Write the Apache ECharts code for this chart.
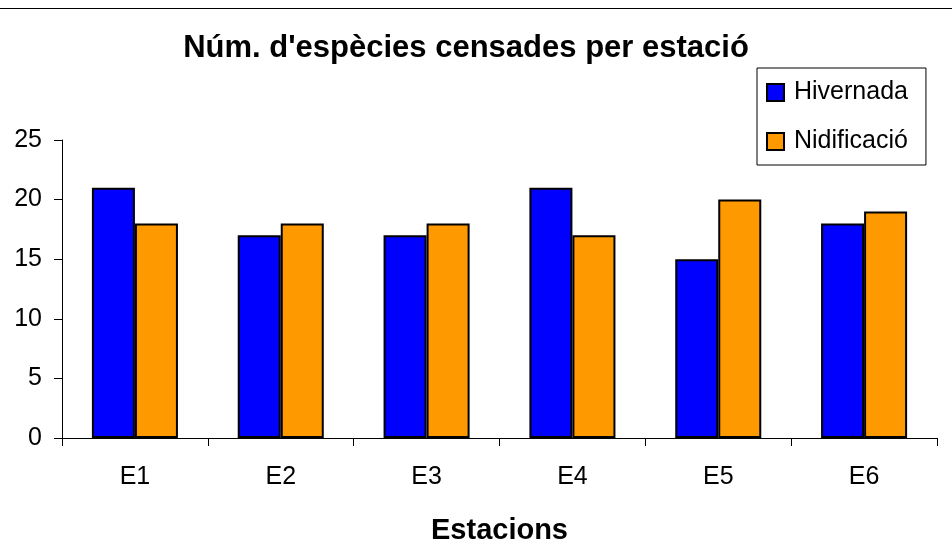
<!DOCTYPE html>
<html><head><meta charset="utf-8">
<script src="https://cdn.jsdelivr.net/npm/echarts@6/dist/echarts.min.js"></script>
<style>html,body{margin:0;padding:0;background:#fff}#c{width:952px;height:558px}</style>
</head><body><div id="c"></div>
<script>
const categories = ['E1','E2','E3','E4','E5','E6'];
const hivernada = [21,17,17,21,15,18];
const nidificacio = [18,18,18,17,20,19];
const seriesNames = ['Hivernada','Nidificació'];
const yTicks = [0,5,10,15,20,25];

const chart = echarts.init(document.getElementById('c'));
const F = 'Liberation Sans, Arial, sans-serif';
chart.setOption({
  animation:false,
  backgroundColor:'#fff',
  title:{text:"Núm. d'espècies censades per estació", left:461, textAlign:'center', top:28,
    textStyle:{fontFamily:F,fontSize:31,fontWeight:'bold',color:'#000'}},
  legend:{orient:'vertical', left:757, top:68, padding:[12,18,11,9],
    borderColor:'#000', borderWidth:1, itemWidth:17, itemHeight:17, itemGap:24,
    icon:'rect',
    textStyle:{fontFamily:F,fontSize:25,color:'#000',padding:[0,0,0,5]},
    data:seriesNames},
  grid:{left:62,right:15,top:140,bottom:120},
  xAxis:{type:'category',data:categories,name:'Estacions',nameLocation:'middle',nameGap:78,
    nameTextStyle:{fontFamily:F,fontSize:29,fontWeight:'bold',color:'#000'},
    axisLine:{lineStyle:{color:'#000',width:1}},
    axisTick:{show:true,length:8,lineStyle:{color:'#000'}},
    axisLabel:{fontFamily:F,fontSize:25,color:'#000',margin:27}},
  yAxis:{type:'value',min:0,max:25,interval:5,
    axisLine:{show:true,lineStyle:{color:'#000',width:1}},
    axisTick:{show:true,length:8,lineStyle:{color:'#000'}},
    splitLine:{show:false},
    axisLabel:{fontFamily:F,fontSize:25,color:'#000',margin:20,
      formatter:v=>yTicks.includes(v)?String(v):''}},
  series:[
    {name:seriesNames[0],type:'bar',data:hivernada,barGap:'0%',barCategoryGap:'41%',
      itemStyle:{color:'#0000ff',borderColor:'#000',borderWidth:2}},
    {name:seriesNames[1],type:'bar',data:nidificacio,
      itemStyle:{color:'#ff9900',borderColor:'#000',borderWidth:2}}
  ],
  graphic:[{type:'line',shape:{x1:0,y1:8.5,x2:952,y2:8.5},style:{stroke:'#000',lineWidth:1}}]
});
</script></body></html>
